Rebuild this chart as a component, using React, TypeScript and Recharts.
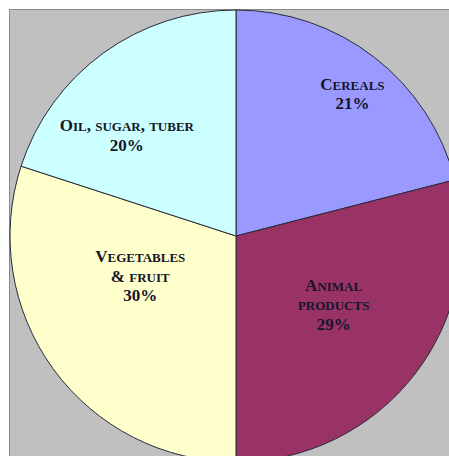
import { Cell, Pie, PieChart } from "recharts";

const categories = ["Cereals", "Animal products", "Vegetables & fruit", "Oil, sugar, tuber"];
const shares = [21, 29, 30, 20];
const labelLines = [["Cereals"], ["Animal", "products"], ["Vegetables", "& fruit"], ["Oil, sugar, tuber"]];
const sliceColors = ["#9999ff", "#993366", "#ffffcc", "#ccffff"];

// label placement: fraction of radius and a small angle nudge (degrees)
const labelRadius = [0.81, 0.53, 0.46, 0.655];
const labelNudge = [-1.7, 2.4, -13, 11.5];

const data = categories.map((name, i) => ({ name, value: shares[i] }));

const RAD = Math.PI / 180;
const BIG = 17;
const SMALL = 13;

// fake small caps: capitals at full size, lowercase as smaller capitals
function smallCaps(line: string) {
  const parts: { t: string; small: boolean }[] = [];
  for (const ch of line) {
    const small = ch !== ch.toUpperCase();
    const last = parts[parts.length - 1];
    if (last && last.small === small) last.t += ch.toUpperCase();
    else parts.push({ t: ch.toUpperCase(), small });
  }
  return parts;
}

function SliceLabel(props: any) {
  const { cx, cy, midAngle, outerRadius, index } = props;
  const r = outerRadius * labelRadius[index];
  const a = (midAngle + labelNudge[index]) * RAD;
  const x = cx + r * Math.cos(-a);
  const lines = [...labelLines[index], `${shares[index]}%`];
  const lineH = 19.5;
  const y0 = cy + r * Math.sin(-a) - ((lines.length - 1) * lineH) / 2 + 5;
  return (
    <text
      x={x}
      y={y0}
      textAnchor="middle"
      fill="#15152a"
      fontFamily="'Liberation Serif', 'Times New Roman', serif"
      fontWeight="bold"
      fontSize={BIG}
    >
      {lines.map((line, i) => (
        <tspan key={i} x={x} y={y0 + i * lineH}>
          {smallCaps(line).map((p, j) => (
            <tspan key={j} fontSize={p.small ? SMALL : BIG}>
              {p.t}
            </tspan>
          ))}
        </tspan>
      ))}
    </text>
  );
}

export default function App() {
  return (
    <div style={{ position: "absolute", left: 0, top: 0, width: 449, height: 456, background: "#fff", overflow: "hidden" }}>
      <div
        style={{
          position: "absolute",
          left: 9,
          top: 9,
          width: 460,
          height: 460,
          background: "#c0c0c0",
          border: "1px solid #8a8a8a",
        }}
      />
      <div style={{ position: "absolute", left: 0, top: 0 }}>
        <PieChart width={449} height={456} margin={{ top: 0, right: 0, bottom: 0, left: 0 }}>
          <Pie
            data={data}
            dataKey="value"
            nameKey="name"
            cx={236}
            cy={236}
            outerRadius={226}
            startAngle={90}
            endAngle={-270}
            stroke="#2a2a3a"
            strokeWidth={1}
            label={SliceLabel}
            labelLine={false}
            isAnimationActive={false}
          >
            {data.map((d, i) => (
              <Cell key={d.name} fill={sliceColors[i]} />
            ))}
          </Pie>
        </PieChart>
      </div>
    </div>
  );
}
